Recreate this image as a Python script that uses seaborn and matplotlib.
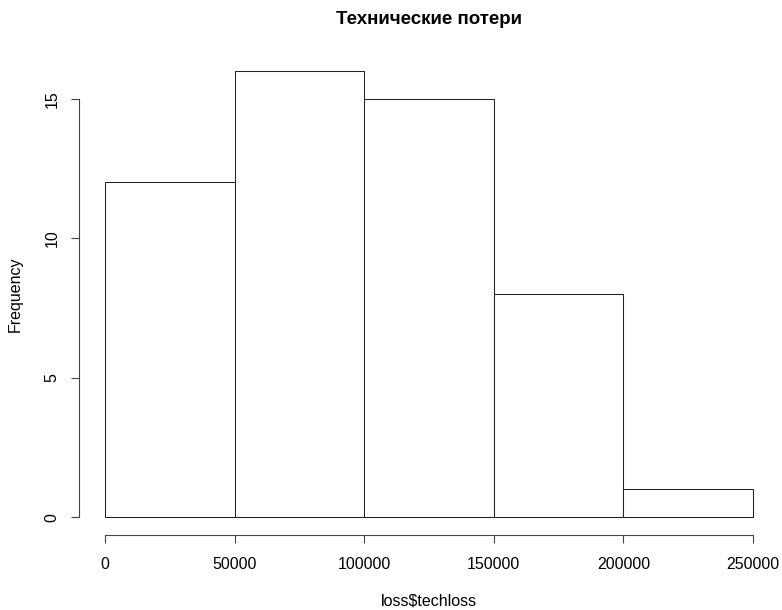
import matplotlib
matplotlib.use("Agg")
import matplotlib.pyplot as plt
import seaborn as sns
import numpy as np

bin_edges = [0, 50000, 100000, 150000, 200000, 250000]
bin_mids = [25000, 75000, 125000, 175000, 225000]
counts = [12, 16, 15, 8, 1]
x_ticks = [0, 50000, 100000, 150000, 200000, 250000]
y_ticks = [0, 5, 10, 15]

sns.set_style("white")
plt.rcParams['font.family'] = ['Liberation Sans', 'DejaVu Sans']
plt.rcParams['text.color'] = 'black'
plt.rcParams['axes.labelcolor'] = 'black'
plt.rcParams['xtick.color'] = 'black'
plt.rcParams['ytick.color'] = 'black'

fig = plt.figure(figsize=(7.82, 6.10), dpi=100)
ax = fig.add_axes([79/782, 1 - 535/610, 700/782, (535-53)/610])

sns.histplot(x=bin_mids, weights=counts, bins=bin_edges, ax=ax,
             color="white", edgecolor="#222222", linewidth=0.75, alpha=1)

ax.set_xlim(-10000, 260000)
ax.set_ylim(-0.64, 16.64)
for s in ["top", "right"]:
    ax.spines[s].set_visible(False)
ax.spines["left"].set_bounds(0, 15)
ax.spines["bottom"].set_bounds(0, 250000)
for s in ["left", "bottom"]:
    ax.spines[s].set_color("#444444")
    ax.spines[s].set_linewidth(0.8)

ax.set_xticks(x_ticks)
ax.set_xticklabels([str(v) for v in x_ticks])
ax.set_yticks(y_ticks)
ax.set_yticklabels([str(v) for v in y_ticks], rotation=90, va="center")
ax.tick_params(axis="both", which="major", direction="out", length=6,
               width=0.8, color="#444444", labelcolor="black", labelsize=11.5,
               bottom=True, left=True)
ax.tick_params(axis="x", pad=10)
ax.tick_params(axis="y", pad=8)

ax.set_xlabel(r"loss\$techloss", fontsize=11.5, labelpad=15, color="black")
ax.set_ylabel("Frequency", fontsize=11.5, labelpad=16, color="black")
ax.set_title("Технические потери", fontsize=13.5, fontweight="bold", pad=21, color="black")

fig.savefig("out.png", dpi=100)
